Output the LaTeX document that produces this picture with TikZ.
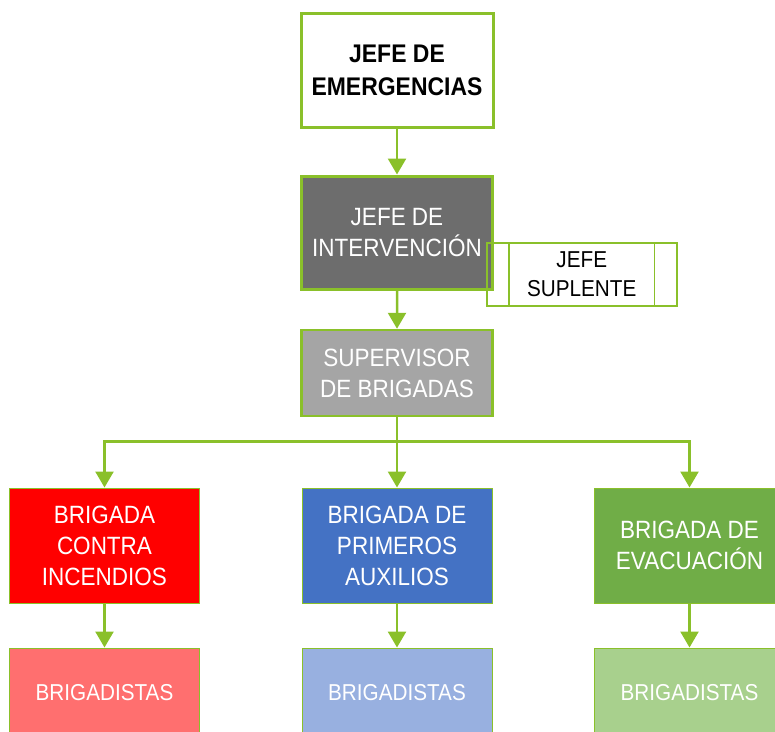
\documentclass[tikz,border=0pt]{standalone}
\usepackage{fontspec}
\setmainfont{Liberation Sans}[FakeStretch=0.9]
\usetikzlibrary{trees,arrows.meta,positioning}
\definecolor{lineGreen}{RGB}{138,192,42}
\definecolor{darkGray}{RGB}{109,109,109}
\definecolor{midGray}{RGB}{165,165,165}
\definecolor{brigRed}{RGB}{255,0,0}
\definecolor{brigBlue}{RGB}{68,114,196}
\definecolor{brigGreen}{RGB}{112,173,71}
\definecolor{lightRed}{RGB}{255,111,111}
\definecolor{lightBlue}{RGB}{152,176,224}
\definecolor{lightGreen}{RGB}{168,208,141}

\begin{document}
\begin{tikzpicture}[x=1pt, y=1pt,
    every node/.style={rectangle, align=center, inner sep=0pt, text=white, draw=lineGreen, minimum width=191pt, font=\fontsize{25}{31}\selectfont},
    bossBox/.style={fill=white, text=black, line width=3pt, minimum width=192pt, minimum height=114pt, font=\fontsize{25.5}{33}\selectfont\bfseries},
    interBox/.style={fill=darkGray, line width=3pt, minimum height=113pt},
    superBox/.style={fill=midGray, line width=2.5pt, minimum height=86pt},
    brigBox/.style={line width=1pt, minimum width=190pt, minimum height=115pt},
    brigadistaBox/.style={line width=1pt, minimum width=190pt, minimum height=90pt, font=\fontsize{23}{29}\selectfont},
    suplenteBox/.style={text=black, line width=1.5pt, minimum width=190pt, minimum height=63pt, font=\fontsize{23}{29}\selectfont},
    level 1/.style={level distance=162.5pt},
    level 2/.style={level distance=140.5pt},
    level 3/.style={level distance=172.5pt, sibling distance=292.5pt, edge from parent path={(\tikzparentnode.south) -- ++(0,-24) -| (\tikzchildnode.north)}},
    level 4/.style={level distance=147.5pt},
    edge from parent/.style={draw=lineGreen, line width=2.5pt, -{Triangle[width=18pt,length=16pt]}},
    edge from parent path={(\tikzparentnode.south) -- (\tikzchildnode.north)}]
\useasboundingbox (0,0) rectangle (775,-731);
\node[bossBox] (emergencias) at (397,-70) {JEFE DE\\EMERGENCIAS}
    child { node[interBox] (intervencion) {JEFE DE\\INTERVENCIÓN}
        child { node[superBox] (supervisor) {SUPERVISOR\\DE BRIGADAS}
            child { node[brigBox, fill=brigRed] (incendios) {BRIGADA\\CONTRA\\INCENDIOS}
                child { node[brigadistaBox, fill=lightRed] (brigadistasRojo) {BRIGADISTAS} }
                }
            child { node[brigBox, fill=brigBlue] (auxilios) {BRIGADA DE\\PRIMEROS\\AUXILIOS}
                child { node[brigadistaBox, fill=lightBlue] (brigadistasAzul) {BRIGADISTAS} }
                }
            child { node[brigBox, fill=brigGreen] (evacuacion) {BRIGADA DE\\EVACUACIÓN}
                child { node[brigadistaBox, fill=lightGreen] (brigadistasVerde) {BRIGADISTAS} }
                }
            }
        }
;
\node[suplenteBox, anchor=north west] (suplente) at ([xshift=-8pt, yshift=-9.5pt]intervencion.east) {JEFE\\SUPLENTE};
\draw[lineGreen, line width=1.5pt] ([xshift=23pt]suplente.north west) -- ([xshift=23pt]suplente.south west);
\draw[lineGreen, line width=1.5pt] ([xshift=-23pt]suplente.north east) -- ([xshift=-23pt]suplente.south east);
\end{tikzpicture}
\end{document}
